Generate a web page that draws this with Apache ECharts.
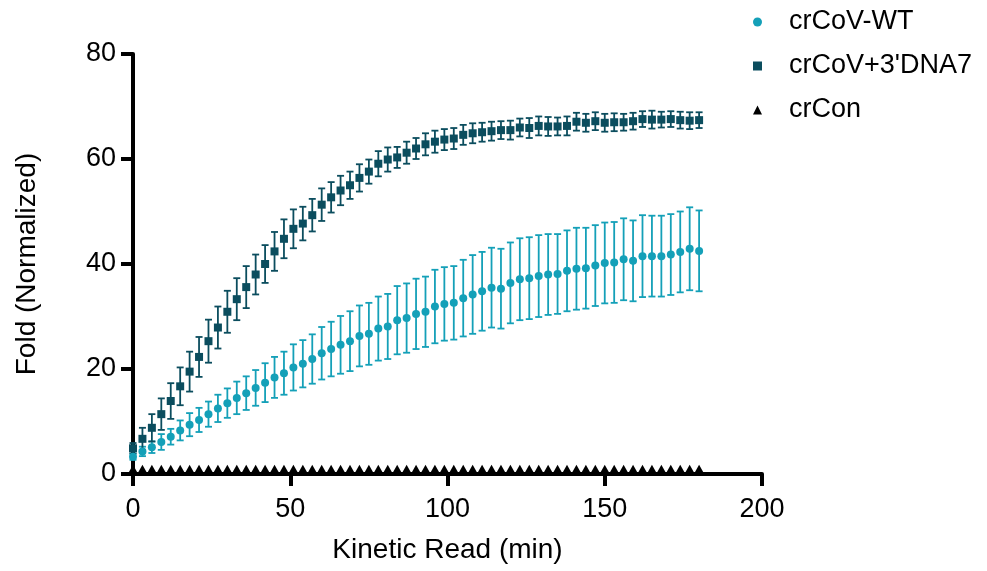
<!DOCTYPE html>
<html>
<head>
<meta charset="utf-8">
<script src="https://cdn.jsdelivr.net/npm/echarts@6/dist/echarts.min.js"></script>
<style>
  html, body { margin: 0; padding: 0; background: #fff; }
  #chart { width: 987px; height: 571px; }
</style>
</head>
<body>
<div id="chart"></div>
<script>
// kinetic read times (min)
var times = [0, 3, 6, 9, 12, 15, 18, 21, 24, 27, 30, 33, 36, 39, 42, 45, 48, 51, 54, 57,
  60, 63, 66, 69, 72, 75, 78, 81, 84, 87, 90, 93, 96, 99, 102, 105, 108, 111, 114, 117,
  120, 123, 126, 129, 132, 135, 138, 141, 144, 147, 150, 153, 156, 159, 162, 165, 168, 171, 174, 177, 180];

// crCoV-WT mean and SD
var wtMean = [3.3, 4.3, 5.1, 6.1, 7.1, 8.3, 9.4, 10.3, 11.4, 12.5, 13.5, 14.5, 15.4, 16.4, 17.4, 18.4, 19.2,
  20.3, 21.0, 21.9, 23.0, 23.8, 24.6, 25.3, 26.3, 26.7, 27.7, 28.1, 29.3, 29.7, 30.5, 30.9, 31.9, 32.4,
  32.6, 33.5, 34.2, 34.8, 35.5, 35.3, 36.4, 37.1, 37.3, 37.7, 38.0, 38.1, 38.7, 39.1, 39.2, 39.7, 40.2,
  40.3, 40.9, 40.6, 41.5, 41.5, 41.5, 41.8, 42.3, 42.9, 42.5];
var wtSd = [0.6, 0.9, 1.1, 1.5, 1.5, 1.9, 2.2, 2.3, 2.4, 2.6, 2.8, 3.1, 3.2, 3.4, 3.7, 3.9, 4.1,
  4.4, 4.5, 4.7, 5.0, 5.2, 5.5, 5.7, 5.8, 5.9, 6.1, 6.2, 6.5, 6.6, 6.7, 6.7, 7.0, 7.0,
  7.0, 7.3, 7.5, 7.5, 7.6, 7.6, 7.7, 7.8, 7.8, 7.8, 7.7, 7.6, 7.7, 7.8, 7.7, 7.7, 7.7,
  7.7, 7.8, 7.7, 7.8, 7.7, 7.7, 7.7, 7.7, 7.9, 7.7];

// crCoV+3'DNA7 mean and SD
var dnaMean = [4.9, 6.7, 8.8, 11.4, 13.9, 16.7, 19.5, 22.3, 25.3, 27.9, 30.9, 33.3, 35.6, 38.0, 40.0, 42.4, 44.8,
  46.7, 47.7, 49.3, 51.3, 52.7, 54.0, 55.0, 56.4, 57.6, 59.1, 59.9, 60.3, 61.2, 62.0, 62.8, 63.3, 63.7,
  63.9, 64.6, 64.9, 65.1, 65.3, 65.5, 65.5, 66.0, 65.9, 66.3, 66.2, 66.2, 66.3, 67.1, 66.9, 67.2, 66.9,
  67.0, 67.0, 67.2, 67.6, 67.5, 67.5, 67.6, 67.4, 67.3, 67.4];
var dnaSd = [1.0, 2.1, 2.6, 3.0, 3.4, 3.6, 3.8, 3.8, 4.1, 4.0, 4.0, 4.0, 4.0, 3.8, 3.6, 3.7, 3.7,
  3.7, 3.2, 3.1, 3.1, 2.9, 2.8, 2.6, 2.6, 2.3, 2.4, 2.3, 2.0, 2.1, 2.0, 2.1, 2.1, 2.0,
  2.0, 1.9, 1.9, 1.8, 1.8, 1.7, 1.8, 1.7, 1.9, 1.8, 1.8, 1.7, 1.8, 1.7, 1.7, 1.7, 1.7,
  1.7, 1.6, 1.6, 1.5, 1.7, 1.5, 1.5, 1.6, 1.6, 1.5];

// crCon
var conMean = [1, 1, 1, 1, 1, 1, 1, 1, 1, 1, 1, 1, 1, 1, 1, 1, 1, 1, 1, 1,
  1, 1, 1, 1, 1, 1, 1, 1, 1, 1, 1, 1, 1, 1, 1, 1, 1, 1, 1, 1,
  1, 1, 1, 1, 1, 1, 1, 1, 1, 1, 1, 1, 1, 1, 1, 1, 1, 1, 1, 1, 1];

var xTicks = [0, 50, 100, 150, 200];
var yTicks = [0, 20, 40, 60, 80];

var WT_COLOR = '#14a0b8';
var DNA_COLOR = '#0b4d5e';
var FONT = 'Liberation Sans, Arial, sans-serif';

function points(mean) {
  return times.map(function (t, i) { return [t, mean[i]]; });
}
function bars(mean, sd) {
  return times.map(function (t, i) { return [t, mean[i] - sd[i], mean[i] + sd[i]]; });
}
function errorBar(color) {
  return function (params, api) {
    var lo = api.coord([api.value(0), api.value(1)]);
    var hi = api.coord([api.value(0), api.value(2)]);
    var w = 3.5;
    var style = { stroke: color, lineWidth: 1.8 };
    return {
      type: 'group',
      children: [
        { type: 'line', shape: { x1: lo[0], y1: lo[1], x2: hi[0], y2: hi[1] }, style: style },
        { type: 'line', shape: { x1: lo[0] - w, y1: lo[1], x2: lo[0] + w, y2: lo[1] }, style: style },
        { type: 'line', shape: { x1: hi[0] - w, y1: hi[1], x2: hi[0] + w, y2: hi[1] }, style: style }
      ]
    };
  };
}

var chart = echarts.init(document.getElementById('chart'));
chart.setOption({
  animation: false,
  textStyle: { fontFamily: FONT },
  grid: { left: 133, right: 225, top: 54, bottom: 97, containLabel: false },
  legend: {
    orient: 'vertical',
    left: 748,
    top: 3,
    itemWidth: 9,
    itemHeight: 9,
    itemGap: 16,
    data: ['crCoV-WT', 'crCoV+3\'DNA7', 'crCon'],
    textStyle: { fontSize: 27, color: '#000', lineHeight: 28, padding: [0, 0, 0, 22], fontFamily: FONT }
  },
  xAxis: {
    type: 'value',
    min: 0, max: 200, interval: 50,
    name: 'Kinetic Read (min)',
    nameLocation: 'middle',
    nameGap: 62,
    nameTextStyle: { fontSize: 28, color: '#000', fontFamily: FONT },
    axisLine: { lineStyle: { color: '#000', width: 4 } },
    axisTick: { length: 12, lineStyle: { color: '#000', width: 4 } },
    axisLabel: {
      fontSize: 27, color: '#000', margin: 22, fontFamily: FONT,
      customValues: xTicks
    },
    splitLine: { show: false }
  },
  yAxis: {
    type: 'value',
    min: 0, max: 80, interval: 20,
    name: 'Fold (Normalized)',
    nameLocation: 'middle',
    nameGap: 92,
    nameTextStyle: { fontSize: 28, color: '#000', fontFamily: FONT },
    axisLine: { lineStyle: { color: '#000', width: 4 } },
    axisTick: { length: 12, lineStyle: { color: '#000', width: 4 } },
    axisLabel: {
      fontSize: 27, color: '#000', margin: 17, fontFamily: FONT,
      customValues: yTicks
    },
    splitLine: { show: false }
  },
  series: [
    {
      name: 'wt-err', type: 'custom', renderItem: errorBar(WT_COLOR),
      data: bars(wtMean, wtSd), clip: false, z: 1, silent: true
    },
    {
      name: 'dna-err', type: 'custom', renderItem: errorBar(DNA_COLOR),
      data: bars(dnaMean, dnaSd), clip: false, z: 1, silent: true
    },
    {
      name: 'crCoV-WT', type: 'scatter', symbol: 'circle', symbolSize: 8,
      itemStyle: { color: WT_COLOR, opacity: 1 }, data: points(wtMean), clip: false, z: 3
    },
    {
      name: 'crCoV+3\'DNA7', type: 'scatter', symbol: 'rect', symbolSize: 8,
      itemStyle: { color: DNA_COLOR, opacity: 1 }, data: points(dnaMean), clip: false, z: 3
    },
    {
      name: 'crCon', type: 'scatter', symbol: 'triangle', symbolSize: [9, 8],
      itemStyle: { color: '#000', opacity: 1 }, data: points(conMean), clip: false, z: 4
    }
  ]
});
</script>
</body>
</html>
